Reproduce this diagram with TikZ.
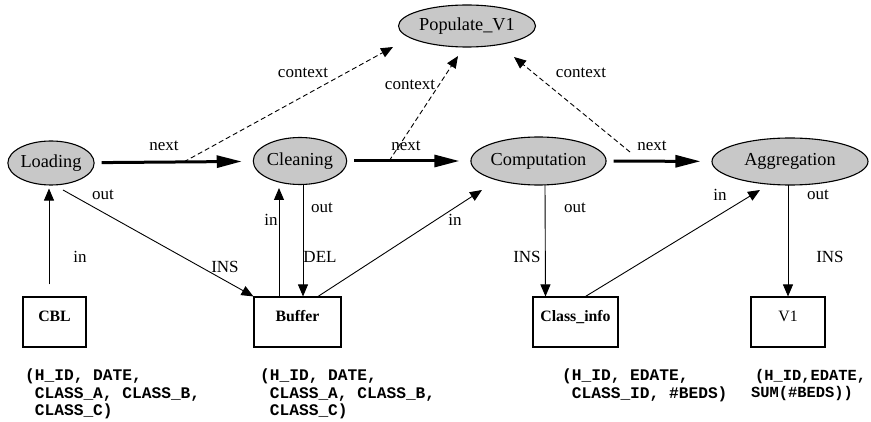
\documentclass[tikz,border=0pt]{standalone}
\usepackage{fontspec}
\setmainfont{Liberation Serif}
\setmonofont{Liberation Mono}
\usetikzlibrary{shapes.geometric,arrows.meta,calc}
\definecolor{procgray}{RGB}{200,200,200}
\begin{document}
\begin{tikzpicture}[x=1pt,y=-1pt,
  proc/.style={ellipse, draw, fill=procgray, line width=1.1pt, inner sep=0pt, font=\fontsize{18.3}{20}\selectfont},
  tbl/.style={rectangle, draw, line width=1.1pt, minimum height=50pt, inner sep=0pt, text height=11pt, text depth=12pt, font=\fontsize{15.8}{18}\selectfont},
  lbl/.style={inner sep=0pt, font=\fontsize{17}{19}\selectfont},
  attr/.style={inner sep=0pt, align=left, anchor=north west, font=\fontsize{16.2}{17.5}\selectfont\ttfamily\bfseries},
  nextarrow/.style={line width=3pt, -{Triangle[length=25pt,width=12pt]}, shorten <=7pt, shorten >=11pt},
  flow/.style={line width=0.9pt, -{Triangle[length=12pt,width=10pt]}},
  ctx/.style={line width=0.9pt, dash pattern=on 5pt off 3pt, -{Triangle[length=12pt,width=10pt]}},
]
\useasboundingbox (0,0) rectangle (871,422);

% process ellipses
\node[proc, minimum width=82pt, minimum height=44pt] (load) at (51,163) {Loading};
\node[proc, minimum width=90pt, minimum height=47pt] (clean) at (300,161) {Cleaning};
\node[proc, minimum width=133pt, minimum height=48pt] (comp) at (538.5,161) {Computation};
\node[proc, minimum width=156pt, minimum height=47pt] (agg) at (790,161.5) {Aggregation};
\node[proc, minimum width=137pt, minimum height=42pt] (pop) at (467,26) {Populate\_V1};

% tables
\node[tbl, minimum width=63pt, font=\fontsize{15.8}{18}\selectfont\bfseries] (cbl) at (54.5,322) {CBL};
\node[tbl, minimum width=87pt, font=\fontsize{15.8}{18}\selectfont\bfseries] (buf) at (297.5,322) {Buffer};
\node[tbl, minimum width=85pt, font=\fontsize{15.8}{18}\selectfont\bfseries] (ci) at (575.5,322) {Class\_info};
\node[tbl, minimum width=74pt] (v1) at (788,322) {V1};

% attributes
\node[attr] (attrA) at (25,369) {(H\_ID, DATE,\\~CLASS\_A, CLASS\_B,\\~CLASS\_C)};
\node[attr] (attrB) at (260,369) {(H\_ID, DATE,\\~CLASS\_A, CLASS\_B,\\~CLASS\_C)};
\node[attr] (attrC) at (562,369) {(H\_ID, EDATE,\\~CLASS\_ID, \#BEDS)};
\node[attr, font=\fontsize{15.4}{17.5}\selectfont\ttfamily\bfseries] (attrD) at (751,369) {\hspace*{4pt}(H\_ID,EDATE,\\SUM(\#BEDS))};

% next arrows
\draw[nextarrow] (load) -- coordinate[pos=0.564] (m1) (clean);
\draw[nextarrow] (clean) -- coordinate[pos=0.34] (m2) (comp);
\draw[nextarrow] (comp) -- (agg);
\coordinate (m3) at (630,152);

\node[lbl] (n1) at (164,146) {next};
\node[lbl] (n2) at (406,146) {next};
\node[lbl] (n3) at (652,146) {next};

% context arrows
\draw[ctx] (m1) -- ($(pop.center)+(-74,21)$);
\draw[ctx] (m2) -- ($(pop.center)+(-9,30)$);
\draw[ctx] (m3) -- ($(pop.center)+(47,31)$);
\node[lbl] (c1) at (303,73) {context};
\node[lbl] (c2) at (410,85) {context};
\node[lbl] (c3) at (581,73) {context};

% data flow arrows
\draw[flow] ($(cbl.north)+(-5.5,-12)$) -- ($(load.south)+(-2,3)$);
\draw[flow] ($(load.center)+(12,27)$) -- (buf.north west);
\draw[flow] ($(buf.north)+(-18.5,0)$) -- ($(clean.center)+(-21,27)$);
\draw[flow] ($(clean.center)+(3,24)$) -- ($(buf.north)+(5.5,0)$);
\draw[flow] ($(buf.north)+(20.5,0)$) -- ($(comp.center)+(-56.5,29)$);
\draw[flow] ($(comp.center)+(6.5,24)$) -- ($(ci.north)+(-30,0)$);
\draw[flow] ($(ci.north)+(10,0)$) -- ($(agg.center)+(-30,28.5)$);
\draw[flow] ($(agg.center)+(-2,23.5)$) -- (v1.north);

\node[lbl] (l1) at (80,257) {in};
\node[lbl] (l2) at (103,195) {out};
\node[lbl] (l3) at (225,267) {INS};
\node[lbl] (l4) at (271,220) {in};
\node[lbl] (l5) at (322,208) {out};
\node[lbl] (l6) at (320,257) {DEL};
\node[lbl] (l7) at (455,220) {in};
\node[lbl] (l8) at (575,208) {out};
\node[lbl] (l9) at (527,257) {INS};
\node[lbl] (l10) at (720,195) {in};
\node[lbl] (l11) at (818,195) {out};
\node[lbl] (l12) at (830,257) {INS};
\end{tikzpicture}
\end{document}
